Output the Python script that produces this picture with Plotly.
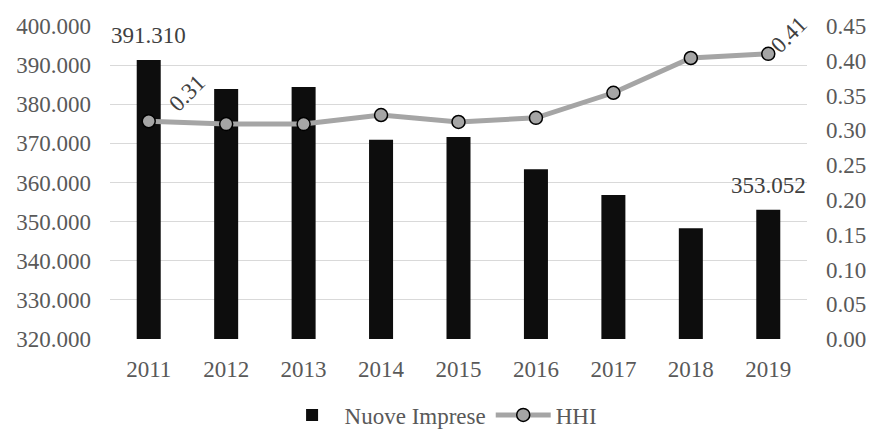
import plotly.graph_objects as go

years = [2011, 2012, 2013, 2014, 2015, 2016, 2017, 2018, 2019]
nuove_imprese = [391310, 383900, 384400, 370900, 371600, 363400, 356800, 348300, 353052]
hhi = [0.313, 0.309, 0.309, 0.322, 0.312, 0.318, 0.354, 0.404, 0.41]

left_ticks = [320000, 330000, 340000, 350000, 360000, 370000, 380000, 390000, 400000]
right_ticks = [0.0, 0.05, 0.10, 0.15, 0.20, 0.25, 0.30, 0.35, 0.40, 0.45]


def it_thousands(v):
    return f"{v:,.0f}".replace(",", ".")


FONT = "Liberation Serif, Times New Roman, serif"
GREY_TXT = "#595959"
LABEL_TXT = "#404040"
FS = 23

fig = go.Figure()
fig.add_trace(go.Bar(
    x=years, y=nuove_imprese, name="Nuove Imprese",
    marker=dict(color="#0d0d0d", line=dict(color="#0d0d0d", width=0)),
    width=0.31,
))
fig.add_trace(go.Scatter(
    x=years, y=hhi, name="HHI", yaxis="y2", mode="lines+markers",
    line=dict(color="#a5a5a5", width=5),
    marker=dict(color="#a5a5a5", size=13, line=dict(color="#000000", width=1.5)),
))

# value labels on the first and last bar
for i in (0, len(years) - 1):
    fig.add_annotation(
        x=years[i], y=nuove_imprese[i], xref="x", yref="y",
        text=it_thousands(nuove_imprese[i]), showarrow=False,
        yanchor="bottom", yshift=10,
        font=dict(family=FONT, size=FS, color=LABEL_TXT),
    )

# rotated HHI labels on the first and last point
hhi_shifts = {0: (38, 28), len(years) - 1: (21, 19)}
for i, (dx, dy) in hhi_shifts.items():
    fig.add_annotation(
        x=years[i], y=hhi[i], xref="x", yref="y2",
        text=f"{hhi[i]:.2f}", textangle=-45, showarrow=False,
        xshift=dx, yshift=dy,
        font=dict(family=FONT, size=FS, color=LABEL_TXT),
    )

fig.update_layout(
    width=873, height=430,
    margin=dict(l=110, r=66, t=26, b=91),
    paper_bgcolor="white", plot_bgcolor="white",
    font=dict(family=FONT, size=FS, color=GREY_TXT),
    showlegend=True,
    legend=dict(orientation="h", x=0.475, xanchor="center",
                yref="container", y=0.035, yanchor="middle",
                itemwidth=55,
                font=dict(family=FONT, size=FS, color=GREY_TXT)),
    xaxis=dict(range=[2010.5, 2019.5], tickvals=years,
               ticktext=[str(y) for y in years], automargin=False,
               showgrid=False, showline=False, zeroline=False, ticks="",
               ticklabelstandoff=14, tickfont=dict(size=FS)),
    yaxis=dict(range=[320000, 400000], tickvals=left_ticks,
               ticktext=[it_thousands(v) for v in left_ticks], automargin=False,
               showgrid=True, gridcolor="#d9d9d9", gridwidth=1.3,
               zeroline=False, showline=False, ticks="",
               ticklabelstandoff=18, tickfont=dict(size=FS)),
    yaxis2=dict(range=[0, 0.45], tickvals=right_ticks, tickformat=".2f",
                overlaying="y", side="right", showgrid=False, automargin=False,
                zeroline=False, showline=False, ticklabelstandoff=18,
                tickfont=dict(size=FS)),
)

fig.write_html("out.html")
